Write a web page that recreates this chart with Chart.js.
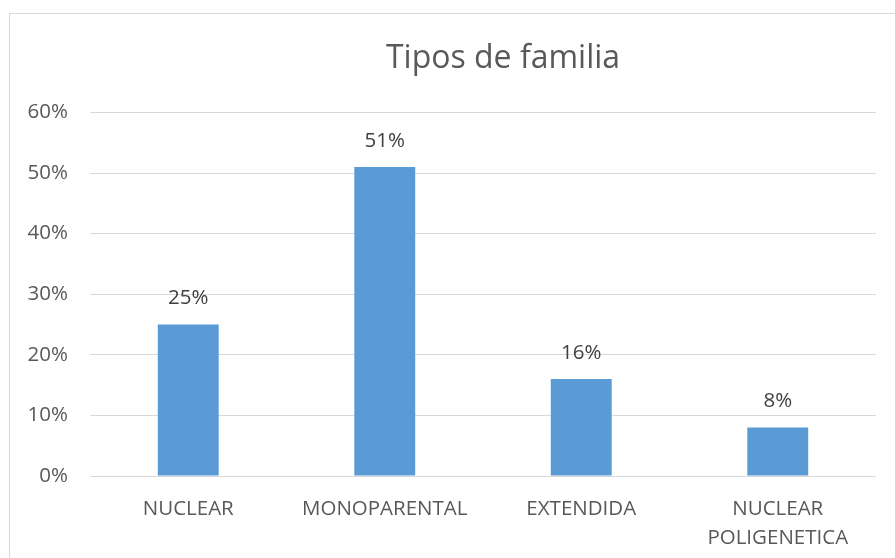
<!DOCTYPE html>
<html>
<head>
<meta charset="utf-8">
<script src="https://cdn.jsdelivr.net/npm/chart.js@4"></script>
<style>
  html, body { margin: 0; padding: 0; background: #fff; overflow: hidden; }
  #box { position: absolute; left: 9px; top: 13px; width: 986px; height: 560px; border: 1px solid #d9d9d9; }
  #box canvas { display: block; }
</style>
</head>
<body>
<div id="box"><canvas id="myChart" width="986" height="560"></canvas></div>
<script>
const categories = ["NUCLEAR", "MONOPARENTAL", "EXTENDIDA", ["NUCLEAR", "POLIGENETICA"]];
const values = [25, 51, 16, 8];
const yTicks = [0, 10, 20, 30, 40, 50, 60];

const fontFamily = "'Open Sans', sans-serif";

// etiquetas de valor encima de cada barra
const barLabels = {
    id: "barLabels",
    afterDatasetsDraw(chart) {
        const ctx = chart.ctx;
        const meta = chart.getDatasetMeta(0);
        ctx.save();
        ctx.font = "20.5px " + fontFamily;
        ctx.fillStyle = "#404040";
        ctx.textAlign = "center";
        ctx.textBaseline = "middle";
        meta.data.forEach((bar, i) => {
            ctx.fillText(values[i] + "%", bar.x, bar.y - 26);
        });
        ctx.restore();
    },
};

const ctx = document.getElementById("myChart").getContext("2d");
const myChart = new Chart(ctx, {
    type: "bar",
    data: {
        labels: categories,
        datasets: [
            {
                label: "Tipos de familia",
                data: values,
                backgroundColor: "#5b9bd5",
                categoryPercentage: 1,
                barPercentage: 0.31,
            },
        ],
    },
    options: {
        responsive: false,
        animation: false,
        layout: { padding: { left: 0, right: 0, top: 0, bottom: 18 } },
        plugins: {
            legend: { display: false },
            tooltip: { enabled: false },
            title: {
                display: true,
                text: "Tipos de familia",
                color: "#595959",
                font: { family: fontFamily, size: 32, weight: "normal", lineHeight: 1.2 },
                padding: { top: 26, bottom: 34 },
            },
        },
        scales: {
            x: {
                grid: { display: false },
                border: { display: false },
                ticks: {
                    color: "#595959",
                    font: { family: fontFamily, size: 20.5, lineHeight: 1.45 },
                    padding: 10,
                    maxRotation: 0,
                    autoSkip: false,
                },
                afterFit(scale) { scale.height = 80; },
            },
            y: {
                min: 0,
                max: 60,
                afterBuildTicks(scale) { scale.ticks = yTicks.map((v) => ({ value: v })); },
                grid: { color: "#d9d9d9", lineWidth: 1, drawTicks: false },
                border: { display: false },
                ticks: {
                    color: "#595959",
                    font: { family: fontFamily, size: 20.5 },
                    padding: 22,
                    callback: (v) => v + "%",
                },
                afterFit(scale) { scale.width = 80; },
            },
            // eje vacío a la derecha, solo reserva espacio
            yRight: {
                position: "right",
                grid: { display: false },
                border: { display: false },
                ticks: { display: false },
                afterFit(scale) { scale.width = 120; },
            },
        },
    },
    plugins: [barLabels],
});
</script>
</body>
</html>
